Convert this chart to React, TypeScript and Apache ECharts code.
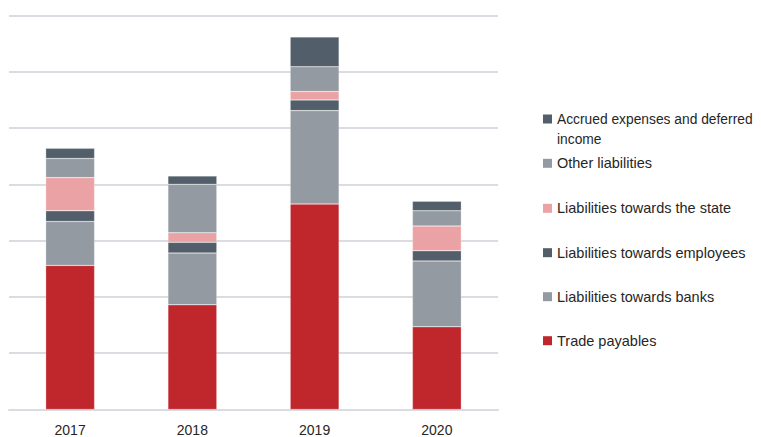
import React, { useEffect, useRef } from "react";
import * as echarts from "echarts";

const categories = ["2017", "2018", "2019", "2020"];
const tradePayables = [25.6, 18.6, 36.5, 14.7];
const banks = [7.8, 9.2, 16.6, 11.7];
const employees = [1.9, 1.9, 1.9, 1.8];
const state = [5.9, 1.7, 1.5, 4.4];
const other = [3.4, 8.6, 4.4, 2.7];
const accrued = [1.8, 1.5, 5.3, 1.7];

const seriesDefs = [
  { name: "Trade payables", data: tradePayables, color: "#C0272D", legendY: 340.7 },
  { name: "Liabilities towards banks", data: banks, color: "#939AA2", legendY: 296.7 },
  { name: "Liabilities towards employees", data: employees, color: "#525E6A", legendY: 252.7 },
  { name: "Liabilities towards the state", data: state, color: "#EBA2A4", legendY: 208.3 },
  { name: "Other liabilities", data: other, color: "#939AA2", legendY: 163.3 },
  { name: "Accrued expenses and deferred income", data: accrued, color: "#525E6A", legendY: 119 },
];

const FONT = "'Liberation Sans', Arial, sans-serif";

export default function App() {
  const ref = useRef<HTMLDivElement>(null);
  useEffect(() => {
    if (!ref.current) return;
    const chart = echarts.init(ref.current, null, { renderer: "svg" });
    const LH = 20;
    const legends = seriesDefs.map((s) => {
      const isAccrued = s.name.startsWith("Accrued");
      return {
        data: [s.name],
        left: 543,
        top: s.legendY - LH / 2,
        padding: 0,
        itemWidth: 9,
        itemHeight: isAccrued ? 29 : 9,
        icon: isAccrued ? "path://M0,0h9v9h-9z M0,28.9h0.01v0.1h-0.01z" : "rect",
        itemStyle: { borderWidth: 0 },
        selectedMode: false,
        formatter: (n: string) => (n.startsWith("Accrued") ? "Accrued expenses and deferred\nincome" : n),
        textStyle: {
          fontFamily: FONT,
          fontSize: isAccrued ? 13.8 : 14.5,
          color: "#262626",
          lineHeight: LH,
        },
      };
    });
    chart.setOption({
      animation: false,
      grid: { left: 9, right: 263, top: 15.5, bottom: 27.5, containLabel: false },
      legend: legends,
      xAxis: {
        type: "category",
        data: categories,
        axisLine: { show: true, lineStyle: { color: "#D9DCE0", width: 2 } },
        axisTick: { show: false },
        axisLabel: { fontFamily: FONT, fontSize: 14, color: "#262626", margin: 13 },
      },
      yAxis: {
        type: "value",
        min: 0,
        max: 70,
        interval: 10,
        axisLabel: { show: false },
        axisLine: { show: false },
        axisTick: { show: false },
        splitLine: { lineStyle: { color: "#D9DCE0", width: 2 } },
      },
      series: seriesDefs.map((s) => ({
        name: s.name,
        type: "bar",
        stack: "total",
        data: s.data,
        barWidth: "40%",
        itemStyle: { color: s.color, borderColor: "rgba(255,255,255,0.5)", borderWidth: 0.5 },
      })),
    });
    return () => chart.dispose();
  }, []);
  return <div ref={ref} style={{ width: 761, height: 437, position: "absolute", left: 0, top: 0 }} />;
}
